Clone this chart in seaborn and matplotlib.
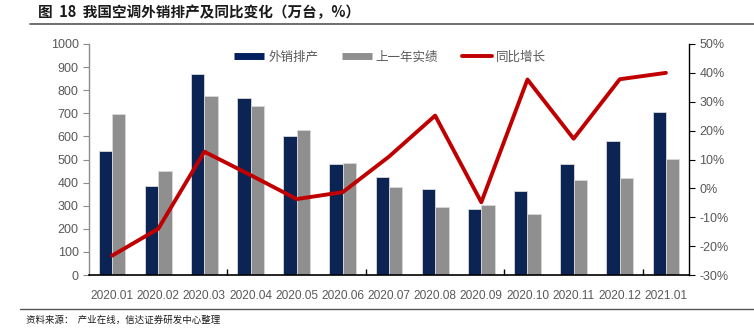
import matplotlib
matplotlib.use("Agg")
import matplotlib.pyplot as plt
import seaborn as sns
import numpy as np
import pandas as pd
from matplotlib.lines import Line2D
from matplotlib.ticker import FuncFormatter, FixedLocator

months = ["2020.01", "2020.02", "2020.03", "2020.04", "2020.05", "2020.06", "2020.07",
          "2020.08", "2020.09", "2020.10", "2020.11", "2020.12", "2021.01"]
export_sched = [537, 386, 871, 765, 603, 479, 423, 371, 287, 362, 479, 580, 705]
last_year = [698, 450, 774, 732, 627, 483, 380, 296, 302, 264, 410, 420, 503]
yoy_growth = [-0.233, -0.14, 0.127, 0.046, -0.037, -0.013, 0.11, 0.252, -0.048, 0.377, 0.172, 0.378, 0.40]

s1, s2, s3 = "外销排产", "上一年实绩", "同比增长"
title = "图  18  我国空调外销排产及同比变化（万台，%）"
source = "资料来源：  产业在线，信达证券研发中心整理"

df = pd.DataFrame({
    "month": months * 2,
    "value": export_sched + last_year,
    "series": [s1] * len(months) + [s2] * len(months),
})

sns.set_theme(style="white")
plt.rcParams["font.family"] = ["Liberation Sans", "Noto Sans CJK SC", "DejaVu Sans"]

navy = "#002060"
gray = "#8f8f8f"
red = "#C00000"
tick_col = "#595959"

fig = plt.figure(figsize=(7.54, 3.36), dpi=100)
ax = fig.add_axes([89 / 754, 1 - 275 / 336, 600 / 754, 231 / 336])

sns.barplot(data=df, x="month", y="value", hue="series", order=months,
            hue_order=[s1, s2], palette=[navy, gray], width=0.58,
            edgecolor="#d9d9d9", linewidth=0.6, legend=False, ax=ax)
ax.set_xlim(-0.5, len(months) - 0.5)
ax.set_ylim(0, 1000)
ax.set_yticks(range(0, 1001, 100))
ax.set_xlabel("")
ax.set_ylabel("")
for sp in ["top", "right"]:
    ax.spines[sp].set_visible(False)
ax.spines["left"].set_color("#8c8c8c")
ax.spines["bottom"].set_color("#000000")
ax.spines["left"].set_linewidth(1.0)
ax.spines["bottom"].set_linewidth(1.2)
ax.tick_params(axis="y", colors=tick_col, labelsize=9, length=4, width=0.8,
               direction="out", left=True, color="#8c8c8c")
ax.tick_params(axis="x", which="major", colors=tick_col, labelsize=8.6, length=0, pad=11)
ax.xaxis.set_minor_locator(FixedLocator([2.5, 5.5, 8.5, 11.5]))
ax.tick_params(axis="x", which="minor", bottom=True, direction="in", length=4,
               width=1.0, color="#000000")

ax2 = ax.twinx()
sns.lineplot(x=np.arange(len(months)), y=yoy_growth, color=red, linewidth=2.8,
             ax=ax2, legend=False)
ax2.set_ylim(-0.3, 0.5)
ax2.set_yticks(np.arange(-0.3, 0.51, 0.1))
ax2.yaxis.set_major_formatter(FuncFormatter(lambda v, p: f"{round(v * 100):d}%"))
ax2.set_xlim(-0.5, len(months) - 0.5)
for sp in ["top", "left", "bottom"]:
    ax2.spines[sp].set_visible(False)
ax2.spines["right"].set_color("#000000")
ax2.spines["right"].set_linewidth(1.0)
ax2.tick_params(axis="y", colors=tick_col, labelsize=9, length=4, width=0.8,
                direction="out", right=True, color="#000000")
ax2.grid(False)
ax.grid(False)

handles = [Line2D([0], [0], color=navy, lw=5, solid_capstyle="butt"),
           Line2D([0], [0], color=gray, lw=5, solid_capstyle="butt"),
           Line2D([0], [0], color=red, lw=2.8, solid_capstyle="round")]
leg = fig.legend(handles, [s1, s2, s3], loc="center", bbox_to_anchor=(390 / 754, 1 - 57 / 336),
                 ncol=3, frameon=False, handlelength=2.4, handletextpad=0.3,
                 columnspacing=1.9, prop={"family": ["Noto Sans CJK SC", "DejaVu Sans"], "size": 9})
for t in leg.get_texts():
    t.set_color(tick_col)

fig.text(38 / 754, 1 - 12 / 336, title, fontsize=10.5, fontweight="bold", color="#1a1a1a",
         va="center", ha="left", family=["Noto Sans CJK SC", "DejaVu Sans"])
fig.add_artist(Line2D([30 / 754, 1.0], [1 - 24 / 336] * 2, color="#555555", lw=1.2,
                      transform=fig.transFigure))
fig.add_artist(Line2D([20 / 754, 1.0], [1 - 309 / 336] * 2, color="#555555", lw=1.0,
                      transform=fig.transFigure))
fig.text(26 / 754, 1 - 320 / 336, source, fontsize=6.8, color="#1a1a1a", style="italic",
         va="center", ha="left", family=["Noto Sans CJK SC", "DejaVu Sans"])

fig.savefig("out.png", dpi=100)
